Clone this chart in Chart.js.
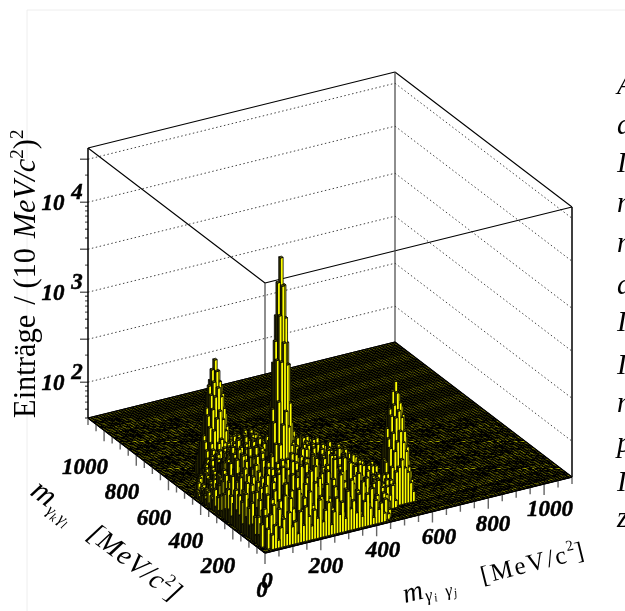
<!DOCTYPE html>
<html>
<head>
<meta charset="utf-8">
<script src="https://cdn.jsdelivr.net/npm/chart.js@4"></script>
<style>body{margin:0;background:#fff}canvas{display:block}</style>
</head>
<body>
<canvas id="lego" width="625" height="611"></canvas>
<script>
// tick values, MeV/c2 and entries
const massLabels = [200, 400, 600, 800, 1000];
const zGridValues = [100, 300, 1000, 3000, 10000, 30000];
const zMinorValues = [40, 50, 60, 70, 80, 90, 200, 400, 500, 600, 700, 800, 900, 2000, 4000, 5000, 6000, 7000, 8000, 9000, 20000];
const zDecades = [2, 3, 4];
const sideLetters = ["A", "d", "I", "m", "m", "d", "I", "I", "m", "p", "I", "z"];
const binWidth = 10, massMax = 1100, zMin = 40, zMax = 40000;

// first filled m_ij bin of every m_kl row
const rowStart = [0,3,2,2,1,1,1,1,1,1,1,1,1,1,1,1,1,1,1,1,1,1,1,1,1,1,1,1,1,1,1,1,1,1,1,1,1,1,1,1,1,1,1,1,1,1,2,3,4,5,6,8,9,11,12,14,15,17,18,19,20,22,24,26,29,32,34,36,39,42];

// continuum entries per bin, one list per m_kl row
const counts = [
[],
[58,72,49,66,81,55,92,63,70,51,88,61,96,74,57,84,67,105,59,78,93,52,71,99,64,86,56,110,69,83,60,95,53,76,90,62,48,73,57,66,50],
[66,94,118,71,103,84,140,77,126,95,68,151,88,117,73,132,92,160,81,109,70,144,99,76,128,87,168,64,112,91,137,75,101,58,122,83,69,97,54,79,62,50,68,46],
[88,57,132,162,96,121,74,180,110,146,83,198,127,91,158,105,214,78,139,168,99,122,190,86,150,113,74,173,131,97,206,118,82,149,66,104,126,59,93,71,110,55,77,63,49],
[71,104,146,85,194,118,231,93,165,128,76,209,143,102,247,119,178,88,156,224,107,136,80,189,149,115,238,95,170,126,73,160,112,137,84,178,67,120,92,58,101,75,61,86,52,47],
[52,96,178,124,73,212,140,99,258,152,116,196,84,171,131,226,94,187,148,108,263,123,172,89,205,135,101,181,157,78,224,110,145,90,168,72,129,95,115,64,83,106,56,74,50,67],
[81,62,140,222,109,167,91,240,130,185,74,156,271,119,204,86,176,233,103,149,82,215,127,193,96,160,247,113,71,178,138,208,92,122,155,79,184,101,65,132,88,112,59,95,70,54,78],
[49,118,87,173,252,128,197,105,151,286,97,218,139,75,244,162,111,199,134,88,262,146,181,100,229,122,77,194,154,118,87,216,143,69,170,106,128,80,150,94,61,113,72,99,57,83,64,51],
[76,93,154,110,206,79,233,142,176,119,258,90,188,305,126,161,209,83,246,114,172,137,224,95,186,148,265,107,132,78,201,159,93,177,120,68,140,104,163,82,117,58,92,74,105,63,50,86,57,72,48],
[60,137,82,190,121,272,98,164,215,132,87,240,153,109,198,279,125,71,221,170,102,254,140,189,84,160,116,231,97,178,129,76,208,146,100,155,85,126,62,111,73,134,90,54,98,67,78,52,61,80,47],
[102,71,168,144,92,229,115,296,173,80,203,136,262,96,182,123,247,155,88,212,175,108,283,130,91,195,147,74,219,163,112,240,99,169,133,81,186,120,66,148,95,108,79,124,60,86,70,92,55,75,49,63],
[55,126,95,208,128,78,249,160,113,224,187,90,142,271,117,205,73,168,236,122,150,86,256,179,104,135,212,94,158,76,197,118,223,141,89,162,104,75,137,98,119,64,83,106,58,77,91,50,68,57,46,73],
[84,150,69,117,181,263,103,139,292,86,167,218,125,81,244,158,191,99,130,275,112,206,145,79,183,121,240,97,171,133,69,214,153,108,186,85,128,96,160,73,110,88,61,122,71,94,53,81,66,49,59],
[64,99,175,232,88,146,204,76,159,118,251,94,196,137,287,109,163,228,83,176,120,254,93,148,211,126,74,190,157,230,102,135,82,171,116,199,77,143,90,104,125,68,98,58,84,72,107,56,75,48],
[113,78,124,156,277,107,186,128,235,83,170,141,98,221,264,127,80,193,151,110,243,174,87,131,266,103,162,209,92,144,122,184,71,227,105,150,88,168,113,66,136,79,101,62,89,118,52,76,63,51],
[50,142,91,199,72,220,136,93,177,301,115,154,208,75,133,189,246,97,158,121,78,213,138,255,96,179,118,85,240,149,70,195,127,100,173,82,146,94,120,69,110,86,130,59,97,73,55,82,47],
[87,66,165,121,246,103,163,268,79,129,222,185,101,272,140,86,167,229,112,191,134,95,258,116,76,204,160,126,89,183,145,235,98,64,166,117,80,152,105,77,128,92,57,112,68,88,60,74,50],
[59,110,132,85,186,149,91,207,174,117,82,259,124,155,198,108,73,242,147,176,88,219,102,188,137,233,81,119,175,96,210,134,71,159,123,93,176,84,111,63,99,138,70,83,54,94,66,48],
[96,73,184,108,238,77,133,173,281,99,148,196,70,227,118,168,257,89,131,205,156,76,182,125,249,94,143,106,218,72,166,112,197,87,142,64,121,100,78,147,56,90,107,65,80,52,71],
[63,145,88,212,126,169,230,86,119,250,160,92,211,135,74,187,111,275,143,83,164,228,101,152,79,192,129,243,90,157,114,68,178,127,95,154,74,113,91,61,125,83,55,98,68,58,46],
[104,57,154,97,183,71,144,274,105,187,126,236,81,173,296,97,150,120,199,68,215,133,174,93,260,117,72,166,209,124,84,201,105,141,76,131,102,168,60,109,72,94,81,51,76,63],
[70,122,77,229,134,192,94,159,217,78,141,176,106,253,124,82,209,162,98,239,115,186,80,147,112,224,155,91,130,187,67,149,90,118,172,79,110,66,133,85,97,58,104,69,53],
[49,93,140,106,168,82,256,115,178,137,89,264,152,71,190,143,230,101,75,172,129,207,96,248,138,76,182,108,164,70,219,120,88,156,62,126,98,75,143,56,88,74,61,92,48],
[81,60,197,74,123,211,100,166,83,243,109,135,197,119,86,277,113,158,85,218,150,92,126,191,74,173,102,233,84,142,111,77,180,95,132,69,113,83,59,101,71,54,87,64],
[55,128,85,158,94,146,237,72,189,121,170,77,223,141,170,96,199,69,136,244,104,169,80,210,128,93,152,66,195,117,86,148,73,120,91,162,64,106,77,51,93,68,47],
[90,69,111,186,63,203,118,149,98,262,88,156,105,231,76,126,181,110,264,84,145,116,183,71,156,104,226,97,127,74,172,100,62,139,82,108,58,119,70,86,58,75],
[52,104,73,137,172,84,131,248,79,142,193,118,68,164,208,135,91,155,73,205,122,88,239,112,66,178,135,81,150,106,67,157,94,74,121,53,91,74,60,99,50,66],
[75,61,159,92,66,215,107,125,183,87,229,102,187,124,78,252,97,173,133,86,168,191,74,126,213,92,114,160,73,194,88,112,132,59,101,84,68,48,83,63,52],
[47,116,83,124,188,70,156,94,274,116,71,147,96,200,161,82,118,222,65,147,102,77,180,143,94,235,69,138,99,127,62,175,80,105,72,94,56,76,66,46],
[68,54,99,144,77,172,88,207,73,134,166,239,83,122,79,176,144,92,191,113,70,205,105,132,66,159,117,74,188,83,144,68,118,90,51,110,63,82,55],
[44,93,67,57,130,95,115,160,127,85,105,72,180,139,221,98,64,158,83,125,237,78,154,96,181,74,122,87,142,60,109,92,72,130,58,77,95,49,61],
[61,48,118,86,76,201,68,233,91,152,118,216,94,77,133,108,197,71,174,141,89,118,66,196,107,84,215,66,98,163,75,126,54,86,67,103,52,71,47],
[46,79,58,109,145,59,126,82,169,62,190,74,135,168,102,61,147,117,78,223,96,163,126,72,139,91,60,171,112,68,92,80,121,60,94,46,66,57],
[70,45,92,54,71,118,186,104,76,128,100,151,56,117,189,85,127,69,158,104,58,136,85,200,67,115,148,78,104,131,56,100,69,48,88,72,51],
[52,66,50,83,126,62,88,148,58,209,84,112,171,91,70,140,96,182,63,120,90,174,74,101,129,59,163,87,66,110,77,142,62,82,54,65,49,60],
[55,46,72,58,47,101,141,73,119,96,65,180,76,133,56,158,78,105,146,68,97,53,127,89,150,72,95,57,136,64,85,50,107,71,45,78,54],
[44,63,49,88,66,75,54,122,86,152,70,105,127,94,116,62,170,74,109,86,135,58,122,77,62,143,82,105,68,52,119,60,74,88,47,58],
[58,48,77,45,60,110,92,64,136,51,97,145,61,83,129,101,56,125,90,66,157,80,53,114,96,71,48,125,58,92,70,83,51,66,45],
[46,54,47,68,82,49,71,102,78,118,87,60,113,79,148,57,96,137,64,102,76,119,86,61,133,50,108,74,87,56,100,62,48,72,52],
[50,44,62,46,55,73,93,56,126,64,89,132,52,105,74,118,84,55,143,72,91,50,105,68,79,116,59,85,46,94,66,73,57,45],
[48,56,46,59,48,66,80,104,68,49,111,76,59,126,91,62,98,76,116,56,84,131,62,93,48,100,71,54,79,87,46,64,50],
[47,52,45,64,51,59,74,94,81,57,99,67,83,104,49,120,67,88,72,109,53,81,71,96,58,112,48,76,60,66,52,44],
[43,50,46,57,46,69,55,88,52,76,118,62,90,55,72,108,86,60,96,48,78,102,65,53,92,70,55,84,46,68,58,49],
[46,52,49,44,52,48,63,47,78,96,58,69,101,83,51,65,92,58,74,112,61,88,50,76,58,104,47,72,53,62,47,78,44],
[48,45,54,48,60,45,71,55,84,68,49,89,72,93,64,52,103,77,56,84,62,95,48,70,58,82,66,50,56,72,45],
[44,56,46,52,64,51,76,59,90,62,72,58,87,70,98,53,64,81,48,74,90,56,66,50,78,60,46,68,52,58,44,62],
[52,60,50,66,54,74,62,88,55,72,98,62,84,58,92,66,108,60,76,56,64,96,72,58,82,54,74,60,78],
[56,62,54,70,58,84,52,94,68,80,58,106,72,56,88,62,100,74,54,82,64,92,52,70,60,78,48],
[60,52,68,56,76,66,90,58,76,102,64,84,56,96,70,60,108,72,58,80,66,88,50,68,56,72],
[54,64,72,58,86,70,60,94,76,54,90,66,104,60,78,70,86,56,98,64,52,76,60,82,50],
[62,68,78,64,96,52,84,68,108,62,82,56,92,72,60,98,66,80,52,88,58,70,48,74],
[70,60,88,74,56,96,64,80,54,104,70,90,62,78,56,94,64,48,84,60,74,54],
[74,84,62,98,70,86,56,102,66,76,92,54,82,64,96,52,72,60,88,48],
[80,68,106,60,84,72,94,62,80,56,90,70,98,54,68,82,52,76],
[72,90,66,82,56,98,68,88,54,76,92,62,74,52,86,58,68],
[64,76,86,54,94,66,80,60,98,72,52,84,66,90,48],
[56,82,64,90,70,54,94,76,52,86,62,72,88,54],
[70,52,84,60,78,96,56,72,90,54,76,64,82,48],
[50,74,58,88,66,52,84,70,94,60,76,54],
[62,52,80,64,92,54,74,86,58,70,50],
[52,72,58,84,50,78,64,90,54],
[50,66,56,76,60,82,52,68],
[58,50,72,52,78,62,54],
[52,62,50,70,56,74],
[50,56,60,52,66],
[54,50,62,56],
[50,58,52],
[54,48]
];

// resonance peaks, 9x9 bins around m = 135 and 547 MeV
const centerPeakStart = [9, 9];
const centerPeak = [
[125,150,180,215,260,205,165,135,110],
[150,240,380,620,860,570,350,225,140],
[180,380,1100,3000,4800,2700,1000,360,170],
[215,640,3100,9500,20000,8700,2600,580,210],
[260,880,4900,21500,40000,19500,4400,820,250],
[205,590,2700,8900,19000,8300,2400,540,195],
[165,360,1000,2500,4300,2400,950,340,155],
[135,230,360,560,800,530,330,210,125],
[110,140,170,205,250,195,155,130,105]
];
const leftPeakStart = [9, 50];
const leftPeak = [
[60,75,90,110,120,105,85,70,55],
[75,110,150,200,240,190,140,100,70],
[90,160,250,340,420,330,240,150,85],
[110,210,350,480,620,470,340,200,100],
[125,250,430,640,810,600,410,240,115],
[105,200,340,470,590,460,330,190,95],
[85,150,240,330,400,320,230,140,80],
[70,100,145,190,230,185,135,95,65],
[55,70,85,105,115,100,80,65,50]
];
const rightPeakStart = [50, 9];
const rightPeak = [
[58,72,95,105,125,100,88,66,52],
[78,105,155,195,250,185,145,96,68],
[88,165,240,350,410,340,235,155,82],
[115,205,360,470,630,480,350,195,105],
[120,260,420,650,820,590,420,230,110],
[110,195,350,460,600,450,340,185,92],
[82,155,235,340,390,330,225,145,78],
[72,96,150,185,235,180,130,98,62],
[52,74,82,108,110,104,76,68,48]
];

// oblique projection of the box, plane units equal canvas pixels
function project(mi, mk, n) {
  const lift = (Math.log10(n) - Math.log10(zMin)) / (Math.log10(zMax) - Math.log10(zMin)) * 270;
  return {
    x: 265 + mi * 307 / massMax - mk * 177 / massMax,
    y: 553 - mi * 76 / massMax - mk * 135 / massMax - lift
  };
}
const gap = { x: NaN, y: NaN };

function seg(list, a, b) { list.push(a, b, gap); }

// box edges and grid
const solidEdges = [], backEdges = [], dottedGrid = [], ticks = [], floorLines = [];
seg(solidEdges, project(0, massMax, zMax), project(massMax, massMax, zMax));
seg(solidEdges, project(massMax, massMax, zMax), project(massMax, 0, zMax));
seg(solidEdges, project(massMax, 0, zMax), project(0, 0, zMax));
seg(solidEdges, project(0, 0, zMax), project(0, massMax, zMax));
seg(backEdges, project(0, 0, zMin), project(0, 0, zMax));
seg(backEdges, project(massMax, massMax, zMin), project(massMax, massMax, zMax));
zGridValues.forEach(v => {
  seg(dottedGrid, project(0, massMax, v), project(massMax, massMax, v));
  seg(dottedGrid, project(massMax, massMax, v), project(massMax, 0, v));
});
for (let m = 0; m <= massMax; m += 50) {
  const len = m % 200 === 0 ? 11 : 7;
  const a = project(m, 0, zMin), b = project(0, m, zMin);
  seg(ticks, a, { x: a.x, y: a.y + len });
  seg(ticks, b, { x: b.x, y: b.y + len });
}
[...zGridValues, ...zMinorValues].forEach(v => {
  const p = project(0, massMax, v);
  const len = zGridValues.includes(v) ? 8 : 3;
  seg(ticks, { x: p.x - len, y: p.y }, p);
});
for (let m = 0; m <= massMax; m += binWidth) {
  seg(floorLines, project(m, 0, zMin), project(m, massMax, zMin));
  seg(floorLines, project(0, m, zMin), project(massMax, m, zMin));
}
const floorShape = [project(0, 0, zMin), project(massMax, 0, zMin), project(massMax, massMax, zMin), project(0, massMax, zMin), project(0, 0, zMin)];
const heavyEdges = [];
seg(heavyEdges, project(0, massMax, zMin), project(0, massMax, zMax));
seg(heavyEdges, project(massMax, 0, zMin), project(massMax, 0, zMax));
seg(heavyEdges, floorShape[3], floorShape[0]);
seg(heavyEdges, floorShape[0], floorShape[1]);

// bin table, the peaks stand on top of the continuum
const table = new Map();
counts.forEach((row, k) => row.forEach((n, i) => table.set((rowStart[k] + i) + "," + k, n)));
[[centerPeak, centerPeakStart], [leftPeak, leftPeakStart], [rightPeak, rightPeakStart]].forEach(([peak, start]) => {
  peak.forEach((row, k) => row.forEach((n, j) => {
    const key = (start[0] + j) + "," + (start[1] + k);
    table.set(key, Math.max(n, table.get(key) || 0));
  }));
});

// far corner first
const bins = [...table.entries()].map(([key, n]) => {
  const [j, k] = key.split(",").map(Number);
  return { j, k, mi: j * binWidth, mk: k * binWidth, n };
}).filter(b => b.n > zMin).sort((a, b) => (b.k + b.j) - (a.k + a.j) || b.k - a.k);

function polygon(ctx, pts, fill) {
  ctx.beginPath();
  pts.forEach((p, i) => i ? ctx.lineTo(p.x, p.y) : ctx.moveTo(p.x, p.y));
  ctx.closePath();
  ctx.fillStyle = fill;
  ctx.fill();
  ctx.stroke();
}

const legoPlugin = {
  id: "lego",
  afterDatasetDraw(chart, args) {
    if (chart.data.datasets[args.index].label !== "bins") return;
    const sx = chart.scales.x, sy = chart.scales.y, ctx = chart.ctx;
    const px = p => ({ x: sx.getPixelForValue(p.x), y: sy.getPixelForValue(p.y) });
    ctx.save();
    ctx.strokeStyle = "#000";
    ctx.lineWidth = 0.8;
    bins.forEach(b => {
      const x0 = b.mi, x1 = b.mi + binWidth, y0 = b.mk, y1 = b.mk + binWidth;
      const base = [project(x0, y0, zMin), project(x1, y0, zMin), project(x0, y1, zMin)].map(px);
      const top = [project(x0, y0, b.n), project(x1, y0, b.n), project(x1, y1, b.n), project(x0, y1, b.n)].map(px);
      polygon(ctx, [base[2], base[0], top[0], top[3]], "#3a3a00");
      polygon(ctx, [base[0], base[1], top[1], top[0]], "#ffff00");
      polygon(ctx, top, "#6a6a00");
    });
    ctx.restore();
  }
};

function textAt(ctx, runs, x, y, angle) {
  ctx.save();
  ctx.translate(x, y);
  ctx.rotate(angle * Math.PI / 180);
  ctx.textBaseline = "alphabetic";
  ctx.textAlign = "left";
  let cx = 0;
  runs.forEach(r => {
    ctx.font = r.font;
    ctx.letterSpacing = r.space || "0px";
    ctx.fillText(r.t, cx, r.dy || 0);
    cx += ctx.measureText(r.t).width + (r.gap || 0);
  });
  ctx.restore();
}

const textPlugin = {
  id: "texts",
  afterDraw(chart) {
    const ctx = chart.ctx;
    ctx.save();
    ctx.fillStyle = "#000";
    ctx.strokeStyle = "#000";
    ctx.lineWidth = 0.5;
    const tick = 'italic bold 23px "Liberation Serif"';
    ctx.textAlign = "center";
    ctx.textBaseline = "middle";
    ctx.font = tick;
    const label = (s, x, y) => { ctx.fillText(s, x, y); ctx.strokeText(s, x, y); };
    const xPos = [[326, 567], [383, 551], [439, 538], [493, 525], [550, 510]];
    const yPos = [[218, 567], [186, 542], [154, 519], [122, 493], [85, 468]];
    massLabels.forEach((m, i) => {
      label(String(m), xPos[i][0], xPos[i][1]);
      label(String(m), yPos[i][0], yPos[i][1]);
    });
    label("0", 267, 582);
    label("0", 262, 591);
    zDecades.forEach(d => {
      const p = project(0, massMax, Math.pow(10, d));
      label("10", 53, p.y + 2);
      label(String(d), 77, p.y - 9);
    });
    ctx.restore();

    ctx.save();
    ctx.fillStyle = "#000";
    const serif = '"Liberation Serif"';
    textAt(ctx, [
      { t: "Einträge", font: `30.5px ${serif}`, gap: 10 },
      { t: "/ (10 ", font: `30.5px ${serif}`, gap: 2 },
      { t: "MeV/c", font: `italic 30.5px ${serif}` },
      { t: "2", font: `19px ${serif}`, dy: -12 },
      { t: ")", font: `30.5px ${serif}` },
      { t: "2", font: `19px ${serif}`, dy: -12 }
    ], 35, 418, -90);
    textAt(ctx, [
      { t: "m", font: `italic 32px ${serif}`, gap: 1 },
      { t: "γ", font: `italic 17px ${serif}`, dy: 5 },
      { t: "k", font: `italic 12px ${serif}`, dy: 8, gap: 2 },
      { t: "γ", font: `italic 17px ${serif}`, dy: 5 },
      { t: "l", font: `italic 12px ${serif}`, dy: 8, gap: 23 },
      { t: "[MeV/c", font: `italic 28px ${serif}`, space: "1px" },
      { t: "2", font: `17px ${serif}`, dy: -11 },
      { t: "]", font: `italic 28px ${serif}` }
    ], 29, 494, 37);
    textAt(ctx, [
      { t: "m", font: `italic 28px ${serif}`, gap: 1 },
      { t: "γ", font: `italic 18px ${serif}`, dy: 4, gap: 1 },
      { t: "i", font: `italic 12px ${serif}`, dy: 6, gap: 9 },
      { t: "γ", font: `italic 18px ${serif}`, dy: 4, gap: 1 },
      { t: "j", font: `italic 12px ${serif}`, dy: 6, gap: 27 },
      { t: "[MeV/c", font: `25px ${serif}`, space: "2px" },
      { t: "2", font: `15px ${serif}`, dy: -11 },
      { t: "]", font: `25px ${serif}` }
    ], 405, 603, -14);
    ctx.font = `italic 29px ${serif}`;
    ctx.textAlign = "left";
    ctx.textBaseline = "alphabetic";
    const sideY = [94, 134, 172, 212, 252, 294, 331, 374, 412, 452, 491, 527];
    sideLetters.forEach((c, i) => ctx.fillText(c, 617, sideY[i]));
    ctx.restore();
  }
};

function lineSet(label, data, color, width, order, dash) {
  return { label, data, showLine: true, borderColor: color, borderWidth: width, pointRadius: 0, order, borderDash: dash || [], fill: false, spanGaps: false };
}

new Chart(document.getElementById("lego"), {
  type: "scatter",
  data: {
    datasets: [
      lineSet("page", [{ x: 27, y: 611 }, { x: 27, y: 10 }, { x: 625, y: 10 }], "#eeeeee", 1, 9),
      lineSet("grid", dottedGrid, "#444444", 1, 8, [1.5, 2.5]),
      lineSet("edges", solidEdges, "#000000", 1.1, 7),
      lineSet("back", backEdges, "#444444", 1.2, 6),
      { ...lineSet("floor", floorShape, "#000000", 1, 5), fill: "shape", backgroundColor: "#a8a800" },
      lineSet("floorGrid", floorLines, "#000000", 1.15, 4),
      lineSet("ticks", ticks, "#666666", 1.4, 3),
      lineSet("heavy", heavyEdges, "#000000", 1.5, 2),
      { label: "bins", data: bins.map(b => project(b.mi, b.mk, zMin)), showLine: false, pointRadius: 0, order: 1 }
    ]
  },
  options: {
    responsive: false,
    animation: false,
    layout: { padding: 0 },
    plugins: { legend: { display: false }, tooltip: { enabled: false }, title: { display: false } },
    scales: {
      x: { type: "linear", min: 0, max: 625, display: false },
      y: { type: "linear", min: 0, max: 611, reverse: true, display: false }
    }
  },
  plugins: [legoPlugin, textPlugin]
});
</script>
</body>
</html>
